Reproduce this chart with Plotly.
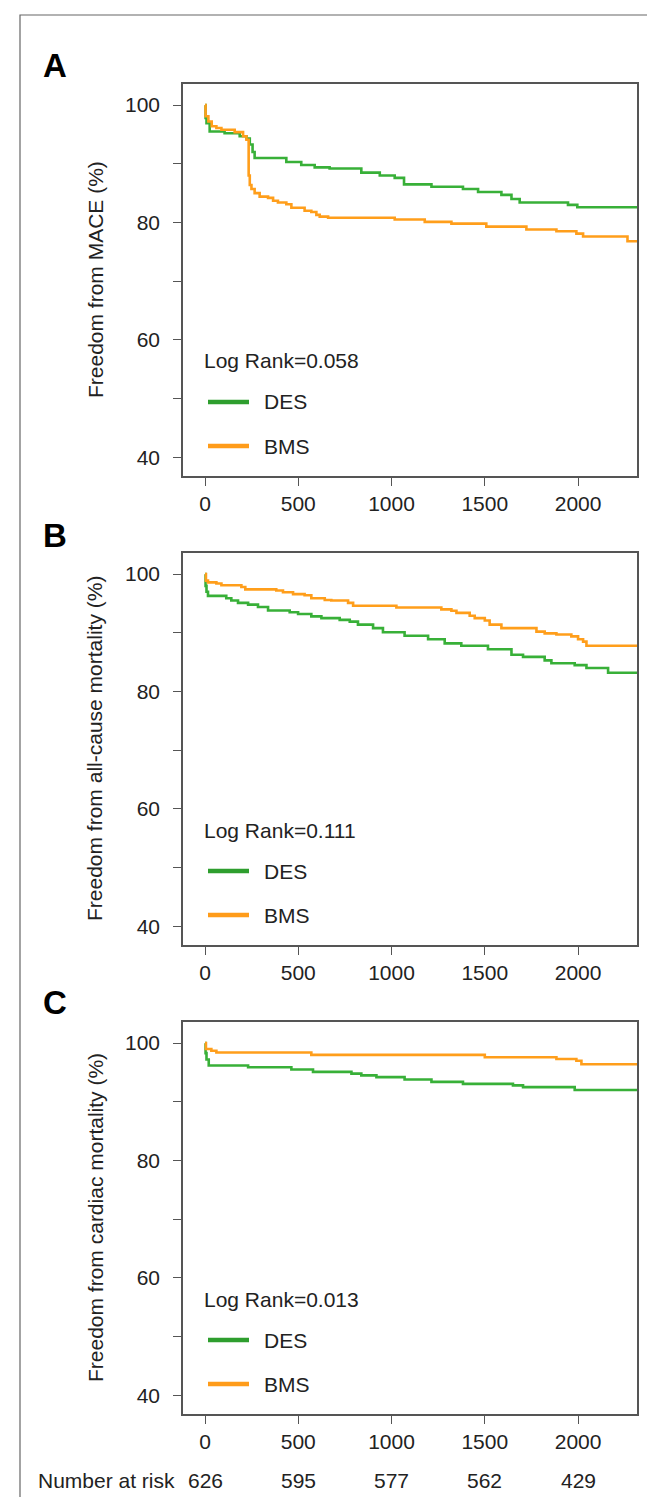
import plotly.graph_objects as go

# ---------------- data ----------------
# Panel A: Freedom from MACE (%)
a_des_t = [0, 3, 8, 25, 105, 186, 222, 240, 255, 266, 436, 516, 588, 668, 838, 937, 1017, 1067,
           1214, 1383, 1464, 1589, 1643, 1687, 1946, 1996, 2330]
a_des_v = [100, 97.8, 96.9, 95.5, 95.2, 94.7, 94.3, 93.3, 92.0, 91.0, 90.3, 89.8, 89.4, 89.2, 88.5,
           88.0, 87.6, 86.5, 86.1, 85.7, 85.2, 84.7, 84.0, 83.4, 83.0, 82.6, 82.6]
a_bms_t = [0, 3, 18, 36, 61, 88, 159, 204, 222, 234, 240, 249, 266, 293, 338, 365, 391, 436, 463,
           534, 570, 597, 615, 660, 1017, 1178, 1321, 1508, 1723, 1884, 1991, 2027, 2265, 2330]
a_bms_v = [100, 98.1, 97.2, 96.4, 96.1, 95.8, 95.4, 94.7, 94.1, 88.0, 86.4, 85.7, 85.0, 84.4, 84.2,
           83.7, 83.4, 83.1, 82.5, 82.0, 81.8, 81.3, 81.0, 80.8, 80.5, 80.1, 79.8, 79.3, 78.8, 78.5,
           78.1, 77.6, 76.8, 75.5]

# Panel B: Freedom from all-cause mortality (%)
b_des_t = [0, 3, 8, 16, 114, 141, 177, 231, 284, 338, 454, 499, 570, 624, 722, 776, 820, 901, 954,
           1070, 1196, 1285, 1374, 1517, 1643, 1705, 1821, 1857, 1982, 2045, 2161, 2330]
b_des_v = [100, 98.0, 97.0, 96.3, 95.9, 95.5, 95.1, 94.8, 94.4, 93.8, 93.5, 93.2, 92.8, 92.5, 92.2,
           91.9, 91.4, 90.8, 90.1, 89.5, 88.9, 88.2, 87.8, 87.2, 86.25, 85.9, 85.3, 84.8, 84.5, 84.0,
           83.2, 83.2]
b_bms_t = [0, 5, 16, 61, 88, 195, 216, 382, 418, 472, 534, 570, 642, 677, 767, 794, 1026, 1267,
           1321, 1348, 1419, 1446, 1500, 1526, 1589, 1777, 1821, 1884, 1964, 2000, 2027, 2045, 2330]
b_bms_v = [100, 98.9, 98.6, 98.4, 98.1, 97.8, 97.4, 97.2, 96.9, 96.6, 96.4, 95.9, 95.6, 95.5, 95.1,
           94.6, 94.3, 94.0, 93.75, 93.4, 92.9, 92.5, 92.1, 91.4, 90.8, 90.2, 89.9, 89.7, 89.4, 88.9,
           88.5, 87.8, 87.8]

# Panel C: Freedom from cardiac mortality (%)
c_des_t = [0, 3, 8, 20, 231, 463, 579, 785, 838, 919, 1070, 1214, 1383, 1651, 1705, 1982, 2330]
c_des_v = [100, 98.3, 97.2, 96.2, 95.9, 95.5, 95.1, 94.8, 94.5, 94.2, 93.8, 93.4, 93.05, 92.8, 92.5,
           92.0, 92.0]
c_bms_t = [0, 5, 34, 61, 570, 1500, 1884, 1991, 2018, 2330]
c_bms_v = [100, 99.0, 98.7, 98.4, 98.0, 97.6, 97.3, 97.0, 96.4, 96.4]

panel_letters = ["A", "B", "C"]
y_titles = ["Freedom from MACE (%)", "Freedom from all-cause mortality (%)",
            "Freedom from cardiac mortality (%)"]
log_rank = ["Log Rank=0.058", "Log Rank=0.111", "Log Rank=0.013"]
group_names = ["DES", "BMS"]

x_ticks = [0, 500, 1000, 1500, 2000]
y_ticks = [40, 50, 60, 70, 80, 90, 100]
y_ticktext = ["40", "", "60", "", "80", "", "100"]
risk_label = "Number at risk"
risk_times = [0, 500, 1000, 1500, 2000]
risk_counts = [626, 595, 577, 562, 429]

# ---------------- styling / layout ----------------
W, H = 655, 1497
GREEN = "#38B038"
ORANGE = "#FF9E1B"
LEG_GREEN = "#2E9E2E"
LEG_ORANGE = "#FF9C1A"
FONT = "Liberation Sans, Arial, sans-serif"
TXT = "#222222"
FRAME = "#555555"
FS = 21

x_px = (175, 629)
panel_px = [(76, 468), (545, 937), (1014, 1406)]   # top, bottom of each frame
letter_py = [58, 527, 995]


def py(p):
    return 1 - p / H


def px(p):
    return p / W


series = [
    (a_des_t, a_des_v, a_bms_t, a_bms_v),
    (b_des_t, b_des_v, b_bms_t, b_bms_v),
    (c_des_t, c_des_v, c_bms_t, c_bms_v),
]

fig = go.Figure()
annotations = []
shapes = []

for i, (dt, dv, bt, bv) in enumerate(series):
    suf = "" if i == 0 else str(i + 1)
    xa, ya = "x" + suf, "y" + suf
    fig.add_trace(go.Scatter(x=dt, y=dv, mode="lines", line=dict(color=GREEN, width=2.6, shape="hv"),
                             xaxis=xa, yaxis=ya, showlegend=False, name=group_names[0]))
    fig.add_trace(go.Scatter(x=bt, y=bv, mode="lines", line=dict(color=ORANGE, width=2.6, shape="hv"),
                             xaxis=xa, yaxis=ya, showlegend=False, name=group_names[1]))
    top, bot = panel_px[i]
    axis_common = dict(showline=True, mirror=True, linecolor=FRAME, linewidth=1.5,
                       ticks="outside", ticklen=8, tickwidth=1.3, tickcolor=FRAME,
                       showgrid=False, zeroline=False,
                       tickfont=dict(family=FONT, size=FS, color=TXT))
    fig.update_layout(**{
        "xaxis" + suf: dict(domain=[px(x_px[0]), px(x_px[1])], range=[-118, 2316],
                            tickvals=x_ticks, anchor=ya, ticklabelstandoff=0, **axis_common),
        "yaxis" + suf: dict(domain=[py(bot), py(top)], range=[36.8, 103.6],
                            tickvals=y_ticks, ticktext=y_ticktext, anchor=xa,
                            ticklabelstandoff=9, **axis_common),
    })
    # panel letter
    annotations.append(dict(text="<b>%s</b>" % panel_letters[i], x=px(47), y=py(letter_py[i]),
                            xref="paper", yref="paper", showarrow=False, xanchor="center",
                            yanchor="middle", font=dict(family=FONT, size=33, color="#000")))
    # y title
    annotations.append(dict(text=y_titles[i], x=px(87), y=py((top + bot) / 2), xref="paper",
                            yref="paper", showarrow=False, textangle=-90, xanchor="center",
                            yanchor="middle", font=dict(family=FONT, size=FS, color=TXT)))
    # legend block
    annotations.append(dict(text=log_rank[i], x=px(194), y=py(top + 277), xref="paper",
                            yref="paper", showarrow=False, xanchor="left", yanchor="middle",
                            font=dict(family=FONT, size=FS, color=TXT)))
    for k, (nm, col) in enumerate([(group_names[0], LEG_GREEN), (group_names[1], LEG_ORANGE)]):
        yy = top + 318 + 44 * k
        shapes.append(dict(type="line", xref="paper", yref="paper", x0=px(200), x1=px(241),
                           y0=py(yy), y1=py(yy), line=dict(color=col, width=4.5)))
        annotations.append(dict(text=nm, x=px(254), y=py(yy), xref="paper", yref="paper",
                                showarrow=False, xanchor="left", yanchor="middle",
                                font=dict(family=FONT, size=FS, color=TXT)))

# number at risk row
annotations.append(dict(text=risk_label, x=px(28), y=py(1472), xref="paper", yref="paper",
                        showarrow=False, xanchor="left", yanchor="middle",
                        font=dict(family=FONT, size=FS, color=TXT)))
for t, n in zip(risk_times, risk_counts):
    annotations.append(dict(text=str(n), x=t, y=py(1472), xref="x3", yref="paper",
                            showarrow=False, xanchor="center", yanchor="middle",
                            font=dict(family=FONT, size=FS, color=TXT)))

# outer frame
shapes.append(dict(type="rect", xref="paper", yref="paper", x0=px(12), x1=px(645),
                   y0=py(1494), y1=py(7), line=dict(color="#666666", width=1.2)))

fig.update_layout(width=W, height=H, margin=dict(l=0, r=0, t=0, b=0), autosize=False,
                  paper_bgcolor="white", plot_bgcolor="white",
                  annotations=annotations, shapes=shapes, showlegend=False)

fig.write_html("out.html")
